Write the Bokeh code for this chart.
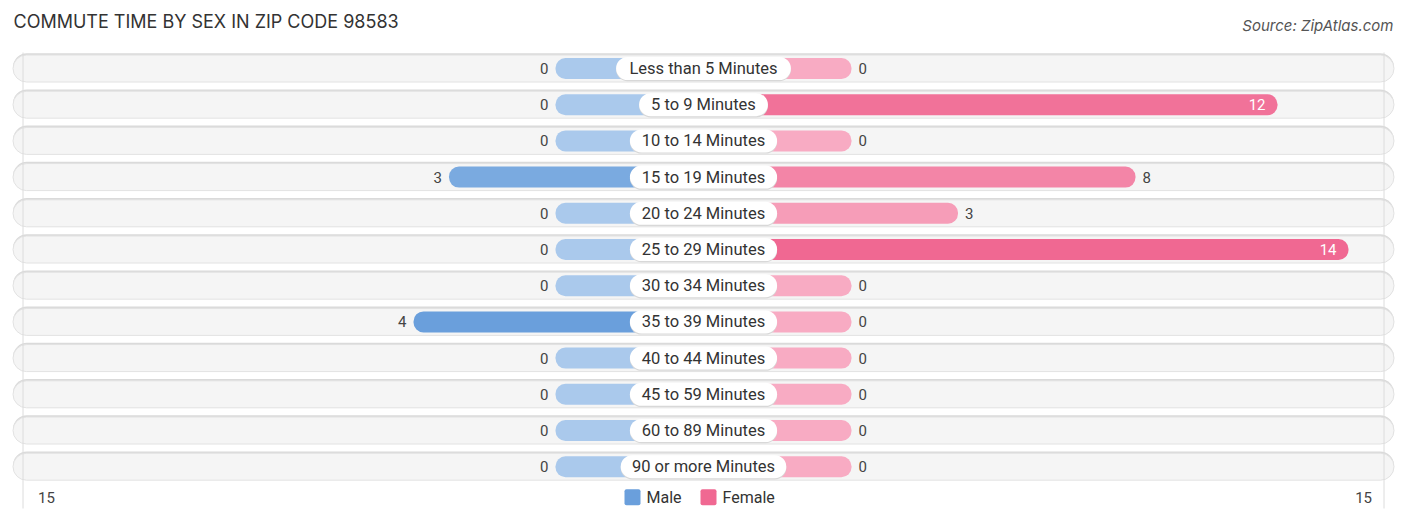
from bokeh.plotting import figure
from bokeh.models import ColumnDataSource, Range1d, Label
from bokeh.core.properties import value
from bokeh.embed import file_html
from bokeh.resources import INLINE

categories = ["Less than 5 Minutes", "5 to 9 Minutes", "10 to 14 Minutes", "15 to 19 Minutes",
              "20 to 24 Minutes", "25 to 29 Minutes", "30 to 34 Minutes", "35 to 39 Minutes",
              "40 to 44 Minutes", "45 to 59 Minutes", "60 to 89 Minutes", "90 or more Minutes"]
male = [0, 0, 0, 3, 0, 0, 0, 4, 0, 0, 0, 0]
female = [0, 12, 0, 8, 3, 14, 0, 0, 0, 0, 0, 0]
axis_max = 15
legend_labels = ["Male", "Female"]

W, H = 1400, 520
CX = 703           # centre line, pixels from left
PX = 35.5          # pixels per count
ROW = 36.2         # pixels per row
STUB = 148 / PX    # zero bars still poke out from under the label pill
top = -68 / ROW
FONT = value("Roboto")

MALE_LIGHT, MALE_DARK = (170, 201, 236), (106, 159, 220)
FEMALE_LIGHT, FEMALE_DARK = (248, 171, 195), (240, 104, 146)


def mix(c0, c1, t):
    return "#%02x%02x%02x" % tuple(round(a + (b - a) * t) for a, b in zip(c0, c1))


rows = list(range(len(categories)))
mmax = max(male) or 1
fmax = max(female) or 1
pill = [9.2 * len(c) / PX for c in categories]

src = ColumnDataSource(dict(
    y=rows,
    cat=categories,
    male_end=[-(STUB + v) for v in male],
    female_end=[STUB + v for v in female],
    male_col=[mix(MALE_LIGHT, MALE_DARK, v / mmax) for v in male],
    female_col=[mix(FEMALE_LIGHT, FEMALE_DARK, v / fmax) for v in female],
    pill_l=[-w / 2 for w in pill],
    pill_r=[w / 2 for w in pill],
    y_shadow=[r - 1.3 / ROW for r in rows],
    y_pill_shadow=[r + 1.2 / ROW for r in rows],
))

p = figure(width=W, height=H, output_backend="svg", toolbar_location=None,
           x_range=Range1d(-CX / PX, (W - CX) / PX), y_range=Range1d(top + H / ROW, top),
           min_border=0, outline_line_color=None)
p.axis.visible = False
p.grid.visible = False

# row backgrounds
edge = axis_max + STUB + 10 / PX
p.hbar(y="y_shadow", left=-edge, right=edge, height=28 / ROW, source=src,
       fill_color="#dadada", line_color=None, border_radius=14)
p.hbar(y="y", left=-edge, right=edge, height=27 / ROW, source=src,
       fill_color="#f5f5f5", line_color="#e2e2e2", border_radius=14)

# faint lines at +-15
gx = axis_max + STUB
p.segment(x0=[-gx, gx], x1=[-gx, gx], y0=[top + 52 / ROW] * 2, y1=[top + 508 / ROW] * 2,
          line_color="#dcdcdc", line_width=1)

# bars
p.hbar(y="y", left="male_end", right=0, height=21 / ROW, source=src,
       fill_color="male_col", line_color=None, border_radius=10)
p.hbar(y="y", left=0, right="female_end", height=21 / ROW, source=src,
       fill_color="female_col", line_color=None, border_radius=10)

# label pills
p.hbar(y="y_pill_shadow", left="pill_l", right="pill_r", height=23 / ROW, source=src,
       fill_color="#d8d8d8", line_color=None, border_radius=12)
p.hbar(y="y", left="pill_l", right="pill_r", height=23 / ROW, source=src,
       fill_color="white", line_color=None, border_radius=12)
p.text(x=0, y="y", text="cat", source=src, text_align="center", text_baseline="middle",
       text_font=FONT, text_font_size="16.5px", text_color="#333333")

# value labels
out_x, out_y, out_t, out_a = [], [], [], []
in_x, in_y, in_t = [], [], []
for r, m, f in zip(rows, male, female):
    if m >= 10:
        in_x.append(-(STUB + m) + 12 / PX); in_y.append(r); in_t.append(str(m))
    else:
        out_x.append(-(STUB + m) - 7 / PX); out_y.append(r); out_t.append(str(m)); out_a.append("right")
    if f >= 10:
        in_x.append(STUB + f - 12 / PX); in_y.append(r); in_t.append(str(f))
    else:
        out_x.append(STUB + f + 7 / PX); out_y.append(r); out_t.append(str(f)); out_a.append("left")

p.text(x=out_x, y=out_y, text=out_t, text_align=out_a, text_baseline="middle",
       text_font=FONT, text_font_size="15px", text_color="#444444")
p.text(x=in_x, y=in_y, text=in_t, text_align="right", text_baseline="middle",
       text_font=FONT, text_font_size="15px", text_color="white")

# bottom axis labels and legend
leg_y = len(categories) - 1 + 30.5 / ROW
p.text(x=[-gx + 15 / PX, gx - 12 / PX], y=[leg_y] * 2, text=[str(axis_max)] * 2,
       text_align=["left", "right"], text_baseline="middle",
       text_font=FONT, text_font_size="15px", text_color="#444444")
sq_x = [-71 / PX, 5 / PX]
p.rect(x=sq_x, y=[leg_y] * 2, width=16, height=16, width_units="screen", height_units="screen",
       fill_color=[mix(MALE_LIGHT, MALE_DARK, 1), mix(FEMALE_LIGHT, FEMALE_DARK, 1)],
       line_color=None, border_radius=2)
p.text(x=[x + 14 / PX for x in sq_x], y=[leg_y] * 2, text=legend_labels, text_align="left",
       text_baseline="middle", text_font=FONT, text_font_size="16px", text_color="#333333")

p.add_layout(Label(x=13, y=H - 21, x_units="screen", y_units="screen",
                   text="COMMUTE TIME BY SEX IN ZIP CODE 98583", text_baseline="middle",
                   text_font="Inter", text_font_size="18px", text_color="#333333"))
p.add_layout(Label(x=1393, y=H - 25, x_units="screen", y_units="screen",
                   text="Source: ZipAtlas.com", text_align="right", text_baseline="middle",
                   text_font="Inter", text_font_size="15px", text_font_style="italic",
                   text_color="#555555"))

open("out.html", "w").write(file_html(p, INLINE))
